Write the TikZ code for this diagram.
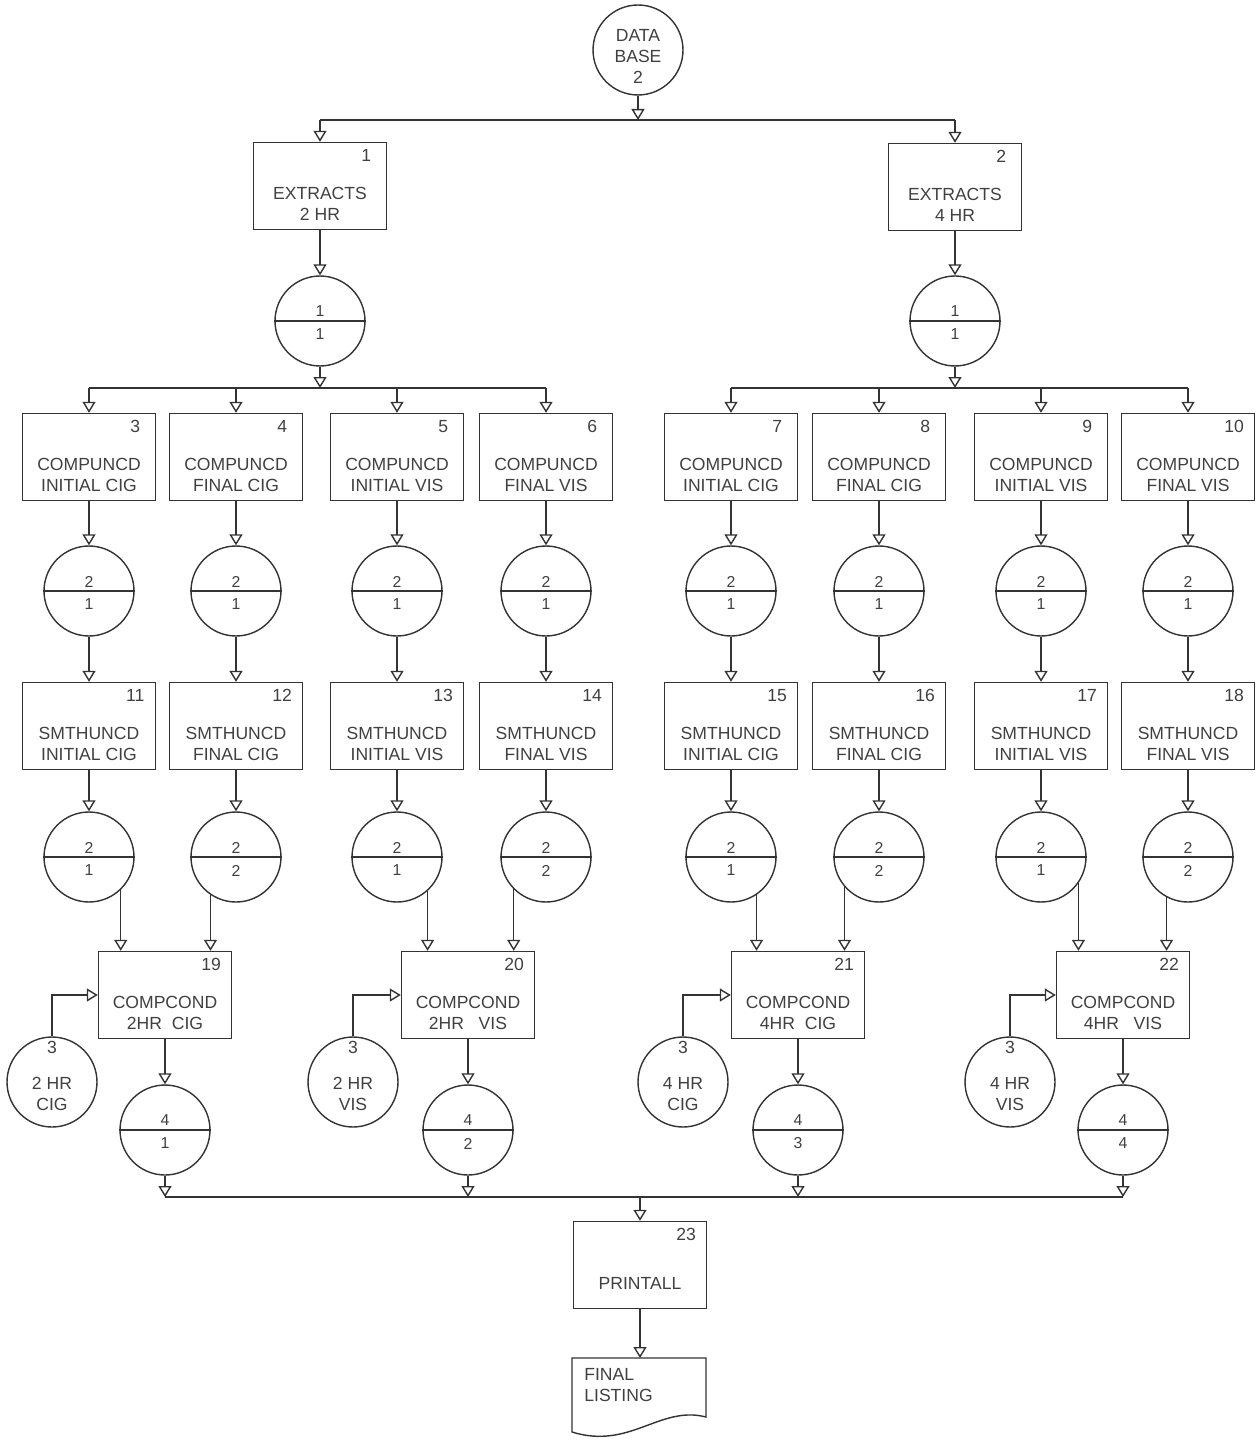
\documentclass[tikz,border=0pt]{standalone}
\usepackage{fontspec}
\setmainfont{Liberation Sans}
\usetikzlibrary{arrows.meta, calc, positioning}

% process box: name, position, number, text
\newcommand{\procbox}[4]{%
  \node[proc] (#1) at (#2) {};
  \node[boxnum] (#1n) at ([xshift=-0.42cm,yshift=-0.28cm]#1.north east) {#3};
  \node[boxtxt] (#1t) at ([yshift=-0.36cm]#1.center) {#4};
}
% data set circle: name, position, upper, lower
\newcommand{\dset}[4]{%
  \node[store] (#1) at (#2) {};
  \draw[wire] (#1.west) -- (#1.east);
  \node[setnum] (#1u) at ([yshift=0.19cm]#1.center) {#3};
  \node[setnum] (#1l) at ([yshift=-0.27cm]#1.center) {#4};
}
% input file circle: name, position, text
\newcommand{\filecirc}[3]{%
  \node[store] (#1) at (#2) {};
  \node[boxnum] (#1n) at ([yshift=-0.22cm]#1.north) {3};
  \node[boxtxt] (#1t) at ([yshift=-0.24cm]#1.center) {#3};
}

\begin{document}
\begin{tikzpicture}[x=0.02cm, y=-0.02cm,
    wire/.style={draw=black!80, line width=0.8pt},
    flow/.style={wire, -{Triangle[open, width=0.26cm, length=0.22cm]}},
    proc/.style={wire, rectangle, minimum width=2.66cm, minimum height=1.74cm, inner sep=0pt},
    store/.style={wire, circle, minimum size=1.8cm, inner sep=0pt},
    boxtxt/.style={align=center, font=\fontsize{10}{12}\selectfont, text=black!75, inner sep=0pt},
    boxnum/.style={font=\fontsize{10}{12}\selectfont, text=black!75, inner sep=0pt},
    setnum/.style={font=\fontsize{9}{10}\selectfont, text=black!75, inner sep=0pt}]
  \useasboundingbox (0,0) rectangle (1258,1442);

  % Data base and extracts
  \node[store] (db) at (638,50) {};
  \node[boxtxt] (dbt) at ([yshift=-0.13cm]db.center) {DATA\\BASE\\2};
  \coordinate (bus1) at (638,120);
  \procbox{p1}{320,186}{1}{EXTRACTS\\2 HR}
  \procbox{p2}{955,187}{2}{EXTRACTS\\4 HR}
  \dset{d1}{320,321}{1}{1}
  \dset{d2}{955,321}{1}{1}

  \draw[flow] (db) -- (bus1);
  \draw[wire] (p1.north |- bus1) -- (p2.north |- bus1);
  \draw[flow] (p1.north |- bus1) -- (p1);
  \draw[flow] (p2.north |- bus1) -- (p2);
  \draw[flow] (p1) -- (d1);
  \draw[flow] (p2) -- (d2);

  % Unconditioned computations
  \coordinate (bus2a) at (320,388);
  \coordinate (bus2b) at (955,388);
  \procbox{p3}{89,457}{3}{COMPUNCD\\INITIAL CIG}
  \procbox{p4}{236,457}{4}{COMPUNCD\\FINAL CIG}
  \procbox{p5}{397,457}{5}{COMPUNCD\\INITIAL VIS}
  \procbox{p6}{546,457}{6}{COMPUNCD\\FINAL VIS}
  \procbox{p7}{731,457}{7}{COMPUNCD\\INITIAL CIG}
  \procbox{p8}{879,457}{8}{COMPUNCD\\FINAL CIG}
  \procbox{p9}{1041,457}{9}{COMPUNCD\\INITIAL VIS}
  \procbox{p10}{1188,457}{10}{COMPUNCD\\FINAL VIS}

  \draw[flow] (d1) -- (bus2a);
  \draw[flow] (d2) -- (bus2b);
  \draw[wire] (p3.north |- bus2a) -- (p6.north |- bus2a);
  \draw[wire] (p7.north |- bus2b) -- (p10.north |- bus2b);
  \draw[flow] (p3.north |- bus2a) -- (p3);
  \draw[flow] (p4.north |- bus2a) -- (p4);
  \draw[flow] (p5.north |- bus2a) -- (p5);
  \draw[flow] (p6.north |- bus2a) -- (p6);
  \draw[flow] (p7.north |- bus2b) -- (p7);
  \draw[flow] (p8.north |- bus2b) -- (p8);
  \draw[flow] (p9.north |- bus2b) -- (p9);
  \draw[flow] (p10.north |- bus2b) -- (p10);

  \dset{d3}{89,591}{2}{1}
  \dset{d4}{236,591}{2}{1}
  \dset{d5}{397,591}{2}{1}
  \dset{d6}{546,591}{2}{1}
  \dset{d7}{731,591}{2}{1}
  \dset{d8}{879,591}{2}{1}
  \dset{d9}{1041,591}{2}{1}
  \dset{d10}{1188,591}{2}{1}

  % Smoothing
  \procbox{p11}{89,726}{11}{SMTHUNCD\\INITIAL CIG}
  \procbox{p12}{236,726}{12}{SMTHUNCD\\FINAL CIG}
  \procbox{p13}{397,726}{13}{SMTHUNCD\\INITIAL VIS}
  \procbox{p14}{546,726}{14}{SMTHUNCD\\FINAL VIS}
  \procbox{p15}{731,726}{15}{SMTHUNCD\\INITIAL CIG}
  \procbox{p16}{879,726}{16}{SMTHUNCD\\FINAL CIG}
  \procbox{p17}{1041,726}{17}{SMTHUNCD\\INITIAL VIS}
  \procbox{p18}{1188,726}{18}{SMTHUNCD\\FINAL VIS}

  \dset{d11}{89,857}{2}{1}
  \dset{d12}{236,857}{2}{2}
  \dset{d13}{397,857}{2}{1}
  \dset{d14}{546,857}{2}{2}
  \dset{d15}{731,857}{2}{1}
  \dset{d16}{879,857}{2}{2}
  \dset{d17}{1041,857}{2}{1}
  \dset{d18}{1188,857}{2}{2}

  \draw[flow] (p3) -- (d3);   \draw[flow] (d3) -- (p11);  \draw[flow] (p11) -- (d11);
  \draw[flow] (p4) -- (d4);   \draw[flow] (d4) -- (p12);  \draw[flow] (p12) -- (d12);
  \draw[flow] (p5) -- (d5);   \draw[flow] (d5) -- (p13);  \draw[flow] (p13) -- (d13);
  \draw[flow] (p6) -- (d6);   \draw[flow] (d6) -- (p14);  \draw[flow] (p14) -- (d14);
  \draw[flow] (p7) -- (d7);   \draw[flow] (d7) -- (p15);  \draw[flow] (p15) -- (d15);
  \draw[flow] (p8) -- (d8);   \draw[flow] (d8) -- (p16);  \draw[flow] (p16) -- (d16);
  \draw[flow] (p9) -- (d9);   \draw[flow] (d9) -- (p17);  \draw[flow] (p17) -- (d17);
  \draw[flow] (p10) -- (d10); \draw[flow] (d10) -- (p18); \draw[flow] (p18) -- (d18);

  % Conditioned computations
  \procbox{p19}{165,995}{19}{COMPCOND\\2HR~~CIG}
  \procbox{p20}{468,995}{20}{COMPCOND\\2HR~~~VIS}
  \procbox{p21}{798,995}{21}{COMPCOND\\4HR~~CIG}
  \procbox{p22}{1123,995}{22}{COMPCOND\\4HR~~~VIS}

  \filecirc{f19}{52,1082}{2 HR\\CIG}
  \filecirc{f20}{353,1082}{2 HR\\VIS}
  \filecirc{f21}{683,1082}{4 HR\\CIG}
  \filecirc{f22}{1010,1082}{4 HR\\VIS}

  \draw[flow] (d11.-46) -- (d11.-46 |- p19.north);
  \draw[flow] (d12.236) -- (d12.236 |- p19.north);
  \draw[flow] (d13.-48) -- (d13.-48 |- p20.north);
  \draw[flow] (d14.225) -- (d14.225 |- p20.north);
  \draw[flow] (d15.-56) -- (d15.-56 |- p21.north);
  \draw[flow] (d16.221) -- (d16.221 |- p21.north);
  \draw[flow] (d17.-35) -- (d17.-35 |- p22.north);
  \draw[flow] (d18.242) -- (d18.242 |- p22.north);

  \draw[flow] (f19) |- (p19);
  \draw[flow] (f20) |- (p20);
  \draw[flow] (f21) |- (p21);
  \draw[flow] (f22) |- (p22);

  \dset{d19}{165,1130}{4}{1}
  \dset{d20}{468,1130}{4}{2}
  \dset{d21}{798,1130}{4}{3}
  \dset{d22}{1123,1130}{4}{4}

  \draw[flow] (p19) -- (d19);
  \draw[flow] (p20) -- (d20);
  \draw[flow] (p21) -- (d21);
  \draw[flow] (p22) -- (d22);

  % Print
  \coordinate (bus3) at (640,1197);
  \draw[wire] (d19.south |- bus3) -- (d22.south |- bus3);
  \draw[flow] (d19) -- (d19.south |- bus3);
  \draw[flow] (d20) -- (d20.south |- bus3);
  \draw[flow] (d21) -- (d21.south |- bus3);
  \draw[flow] (d22) -- (d22.south |- bus3);

  \procbox{p23}{640,1265}{23}{PRINTALL}
  \draw[flow] (bus3) -- (p23);

  % Final listing document
  \coordinate (dtop) at (640,1358);
  \draw[wire] (572,1358) -- (706,1358) -- (706,1417)
    .. controls (660,1405) and (630,1450) .. (572,1432) -- cycle;
  \node[boxtxt, align=left, anchor=north west] (doct) at (584,1368) {FINAL\\LISTING};
  \draw[flow] (p23) -- (dtop);
\end{tikzpicture}
\end{document}
